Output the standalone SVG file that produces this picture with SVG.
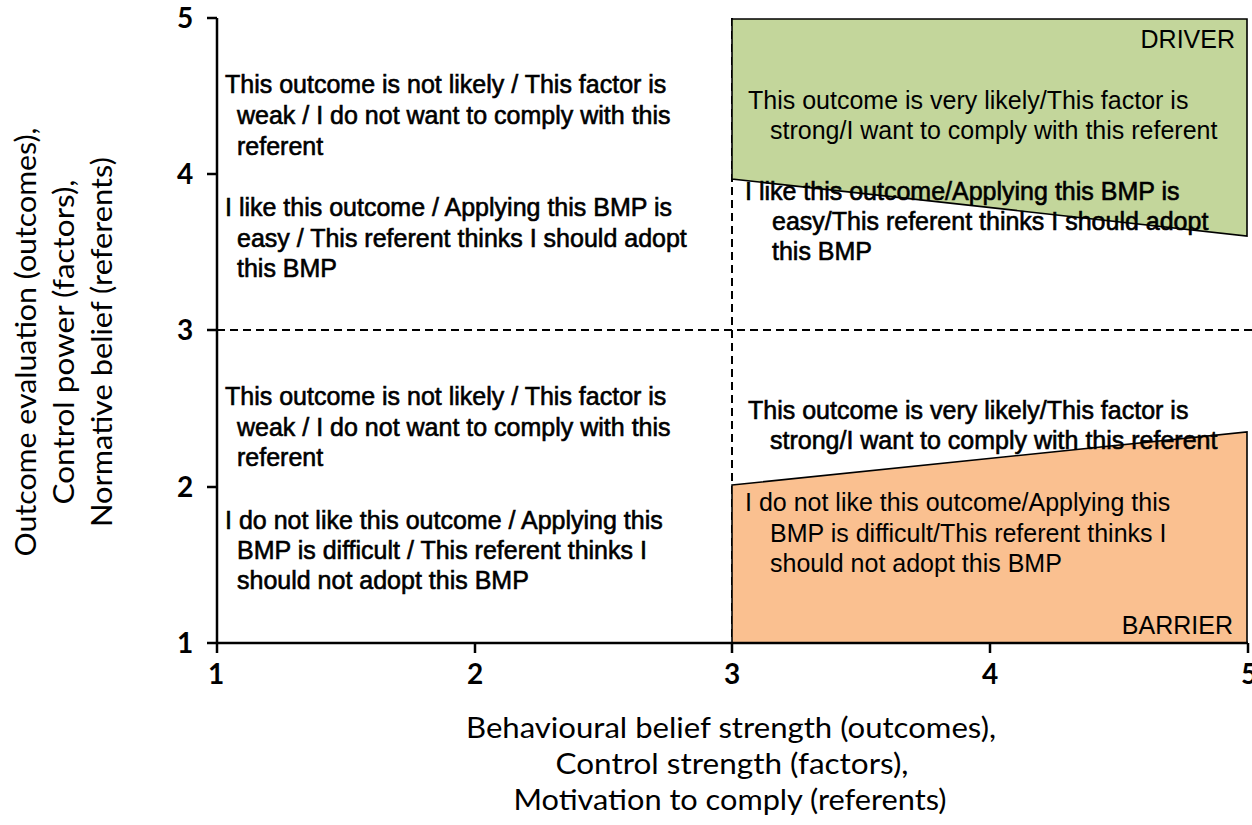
<svg xmlns="http://www.w3.org/2000/svg" width="1252" height="825" viewBox="0 0 1252 825">
<style>
  .t { font-family: "Liberation Sans", Arial, sans-serif; font-size: 25px; fill: #000; }
  .hv { stroke: #000; stroke-width: 0.6px; }
  .tick { font-family: Lato, "Open Sans", sans-serif; font-weight: bold; font-size: 28px; fill: #000; text-anchor: middle; }
  .title { font-family: Lato, "Open Sans", sans-serif; font-size: 29px; fill: #000; text-anchor: middle; }
  .axis { stroke: #000; stroke-width: 2.5; fill: none; }
  .dash { stroke: #000; stroke-width: 2; stroke-dasharray: 8 5; fill: none; }
  .zone { stroke: #000; stroke-width: 1.6; }
</style>
<rect width="1252" height="825" fill="#fff"/>

<g id="gridlines">
  <line class="dash" x1="217" y1="330" x2="1252" y2="330"/>
  <line class="dash" x1="732" y1="18" x2="732" y2="643"/>
</g>

<g id="driver-zone">
  <polygon class="zone" points="732,19 1247,19 1247,236 732,179" fill="#c3d69b"/>
  <text class="t" x="1235" y="48" text-anchor="end">DRIVER</text>
  <text class="t" x="748" y="109">This outcome is very likely/This factor is</text>
  <text class="t" x="770" y="139">strong/I want to comply with this referent</text>
</g>

<g id="barrier-zone">
  <polygon class="zone" points="732,485 1247,432 1247,643 732,643" fill="#fac090"/>
  <text class="t" x="745" y="511">I do not like this outcome/Applying this</text>
  <text class="t" x="770" y="542">BMP is difficult/This referent thinks I</text>
  <text class="t" x="770" y="572">should not adopt this BMP</text>
  <text class="t" x="1233" y="634" text-anchor="end">BARRIER</text>
</g>

<g id="axes">
  <line class="axis" x1="217" y1="18" x2="217" y2="643"/>
  <line class="axis" x1="217" y1="643" x2="1248" y2="643"/>
  <line class="axis" x1="207" y1="18" x2="217" y2="18"/>
  <line class="axis" x1="207" y1="174" x2="217" y2="174"/>
  <line class="axis" x1="207" y1="330" x2="217" y2="330"/>
  <line class="axis" x1="207" y1="487" x2="217" y2="487"/>
  <line class="axis" x1="207" y1="643" x2="217" y2="643"/>
  <line class="axis" x1="217" y1="643" x2="217" y2="653"/>
  <line class="axis" x1="475" y1="643" x2="475" y2="653"/>
  <line class="axis" x1="732" y1="643" x2="732" y2="653"/>
  <line class="axis" x1="990" y1="643" x2="990" y2="653"/>
  <line class="axis" x1="1248" y1="643" x2="1248" y2="653"/>
  <text class="tick" x="185" y="28">5</text>
  <text class="tick" x="185" y="184">4</text>
  <text class="tick" x="185" y="340">3</text>
  <text class="tick" x="185" y="497">2</text>
  <text class="tick" x="185" y="653">1</text>
  <text class="tick" x="216" y="684">1</text>
  <text class="tick" x="475" y="684">2</text>
  <text class="tick" x="732" y="684">3</text>
  <text class="tick" x="990" y="684">4</text>
  <text class="tick" x="1249" y="684">5</text>
</g>

<g id="x-title">
  <text class="title" x="731" y="738" textLength="530" lengthAdjust="spacingAndGlyphs">Behavioural belief strength (outcomes),</text>
  <text class="title" x="732" y="774" textLength="353" lengthAdjust="spacingAndGlyphs">Control strength (factors),</text>
  <text class="title" x="730" y="810" textLength="433" lengthAdjust="spacingAndGlyphs">Motivation to comply (referents)</text>
</g>

<g id="y-title" transform="translate(0,342) rotate(-90)">
  <text class="title" x="0" y="36" textLength="429" lengthAdjust="spacingAndGlyphs">Outcome evaluation (outcomes),</text>
  <text class="title" x="0" y="74" textLength="325" lengthAdjust="spacingAndGlyphs">Control power (factors),</text>
  <text class="title" x="0" y="112" textLength="370" lengthAdjust="spacingAndGlyphs">Normative belief (referents)</text>
</g>

<g id="top-left-text">
  <text class="t hv" x="225" y="93">This outcome is not likely / This factor is</text>
  <text class="t hv" x="237" y="124">weak / I do not want to comply with this</text>
  <text class="t hv" x="237" y="155">referent</text>
  <text class="t hv" x="225" y="216">I like this outcome / Applying this BMP is</text>
  <text class="t hv" x="237" y="247">easy / This referent thinks I should adopt</text>
  <text class="t hv" x="237" y="277">this BMP</text>
</g>

<g id="bottom-left-text">
  <text class="t hv" x="225" y="405">This outcome is not likely / This factor is</text>
  <text class="t hv" x="237" y="436">weak / I do not want to comply with this</text>
  <text class="t hv" x="237" y="466">referent</text>
  <text class="t hv" x="225" y="529">I do not like this outcome / Applying this</text>
  <text class="t hv" x="237" y="559">BMP is difficult / This referent thinks I</text>
  <text class="t hv" x="237" y="589">should not adopt this BMP</text>
</g>

<g id="top-right-text">
  <text class="t hv" x="745" y="200">I like this outcome/Applying this BMP is</text>
  <text class="t hv" x="772" y="230">easy/This referent thinks I should adopt</text>
  <text class="t hv" x="772" y="260">this BMP</text>
</g>

<g id="bottom-right-text">
  <text class="t hv" x="748" y="419">This outcome is very likely/This factor is</text>
  <text class="t hv" x="770" y="449">strong/I want to comply with this referent</text>
</g>
</svg>
